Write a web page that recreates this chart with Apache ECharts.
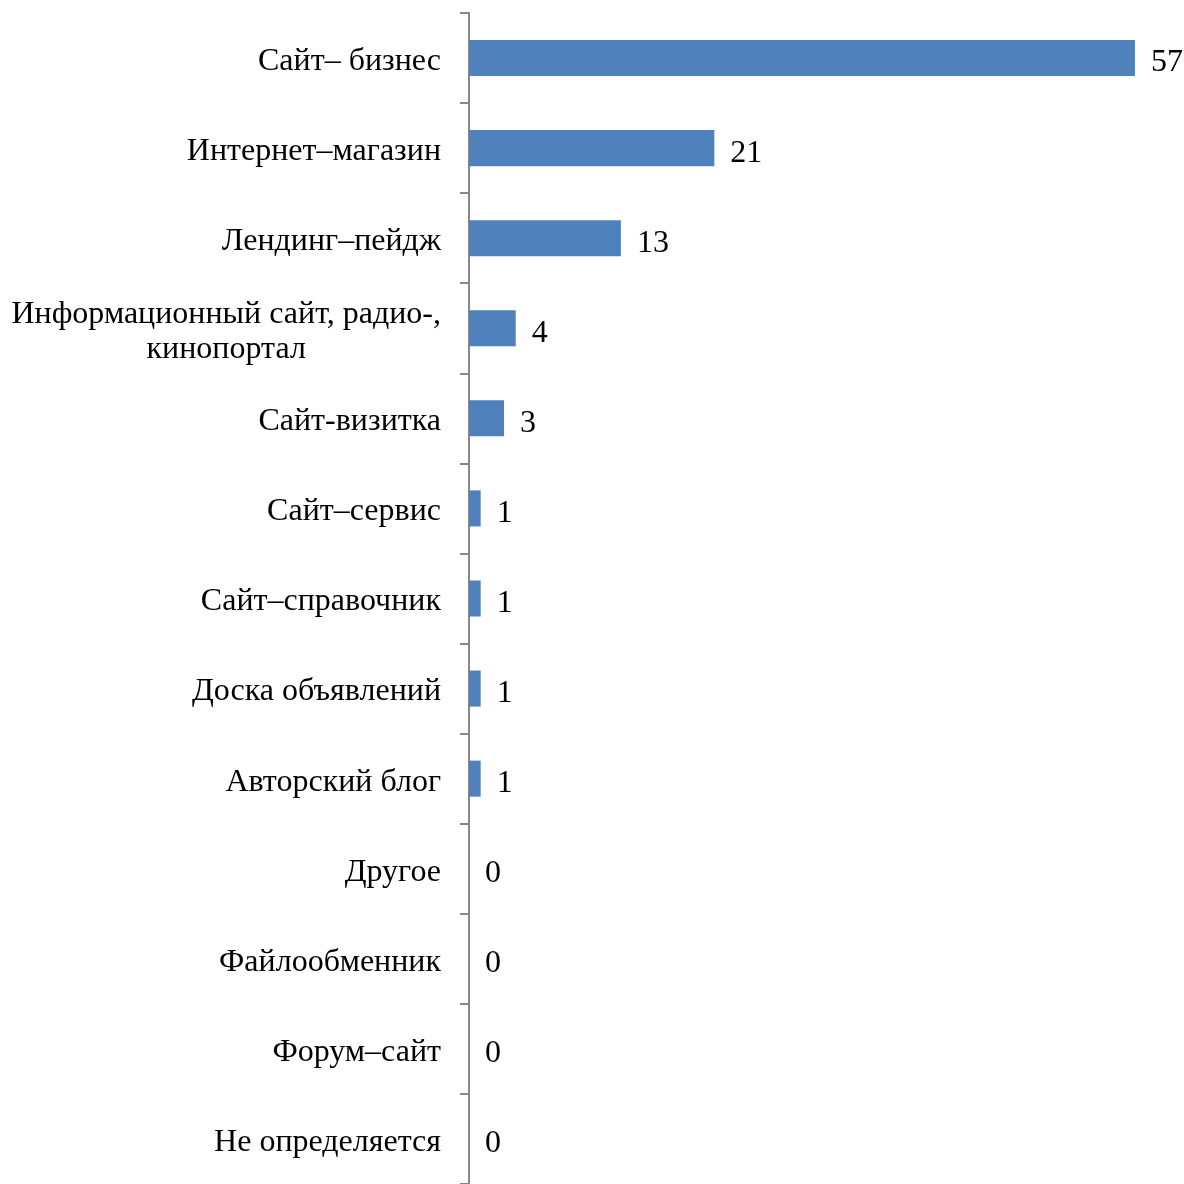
<!DOCTYPE html>
<html>
<head>
<meta charset="utf-8">
<script src="https://cdn.jsdelivr.net/npm/echarts@6/dist/echarts.min.js"></script>
<style>
  html, body { margin: 0; padding: 0; background: #ffffff; }
  #chart { width: 1184px; height: 1184px; }
</style>
</head>
<body>
<div id="chart"></div>
<script>
// Site types and their counts, top to bottom
const categories = [
  'Сайт– бизнес',
  'Интернет–магазин',
  'Лендинг–пейдж',
  'Информационный сайт, радио-,\nкинопортал',
  'Сайт-визитка',
  'Сайт–сервис',
  'Сайт–справочник',
  'Доска объявлений',
  'Авторский блог',
  'Другое',
  'Файлообменник',
  'Форум–сайт',
  'Не определяется'
];
const counts = [57, 21, 13, 4, 3, 1, 1, 1, 1, 0, 0, 0, 0];

const FONT = '"Liberation Serif", "Times New Roman", serif';

const chart = echarts.init(document.getElementById('chart'));
chart.setOption({
  animation: false,
  backgroundColor: '#ffffff',
  grid: { left: 469, top: 13, bottom: -1, right: 14, containLabel: false },
  xAxis: {
    type: 'value',
    min: 0,
    max: 60,
    show: false
  },
  yAxis: {
    type: 'category',
    inverse: true,
    data: categories,
    axisLine: { show: true, lineStyle: { color: '#888888', width: 2 } },
    axisTick: { show: true, length: 9, lineStyle: { color: '#888888', width: 2 } },
    axisLabel: {
      margin: 28,
      color: '#000000',
      fontFamily: FONT,
      fontSize: 32,
      padding: [7, 0, 0, 0],
      formatter: function (v) {
        const lines = v.split('\n');
        return lines.map(function (l) { return '{c|' + l + '}'; }).join('\n');
      },
      rich: {
        c: {
          align: 'center',
          color: '#000000',
          fontFamily: FONT,
          fontSize: 32,
          lineHeight: 35
        }
      }
    }
  },
  series: [{
    type: 'bar',
    data: counts,
    barWidth: '40%',
    itemStyle: { color: '#4F81BD' },
    label: {
      show: true,
      position: 'right',
      distance: 16,
      offset: [0, 5],
      color: '#000000',
      fontFamily: FONT,
      fontSize: 32
    }
  }]
});
</script>
</body>
</html>
